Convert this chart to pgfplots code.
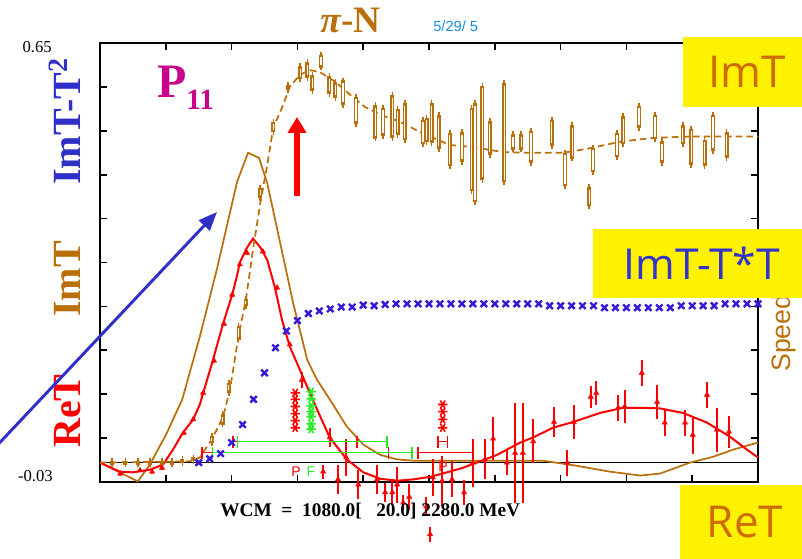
\documentclass[border=0pt]{standalone}
\usepackage{pgfplots}
\pgfplotsset{compat=1.18}
\usepackage{pgfplotstable}
\usepackage{fontspec}
\setmainfont{Liberation Serif}
\setsansfont{Liberation Sans}
\newfontfamily\boxfont{Open Sans}
\usetikzlibrary{arrows.meta}
\definecolor{imtbrown}{RGB}{185,112,10}
\definecolor{xblue}{RGB}{55,25,215}
\definecolor{lblue}{RGB}{48,48,200}
\definecolor{lgreen}{RGB}{40,235,40}
\definecolor{pmag}{RGB}{200,0,140}
\definecolor{dateblue}{RGB}{25,140,230}
\definecolor{boxorange}{RGB}{205,108,0}
\definecolor{boxblue}{RGB}{50,50,205}

\pgfplotstableread{
x y
1080 0
1149 -0.029
1171 -0.003
1202 0.046
1230 0.098
1262 0.195
1293 0.299
1330 0.435
1350 0.480
1370 0.472
1385 0.433
1414 0.319
1432 0.248
1458 0.159
1476 0.128
1499 0.098
1530 0.056
1560 0.028
1591 0.012
1622 0.005
1651 0.003
1888 0.003
1950 -0.005
2010 -0.014
2065 -0.020
2101 -0.017
2156 0.000
2198 0.009
2234 0.020
2271 0.029
2280 0.031
}\brownfit

\pgfplotstableread{
x y
1080 0
1116 -0.014
1140 -0.015
1171 -0.011
1195 -0.003
1213 0.020
1231 0.046
1250 0.067
1262 0.090
1286 0.159
1304 0.214
1321 0.260
1330 0.290
1335 0.310
1348 0.333
1359 0.347
1372 0.334
1385 0.314
1399 0.271
1412 0.221
1426 0.180
1450 0.133
1476 0.082
1499 0.039
1530 0.005
1560 -0.015
1591 -0.025
1622 -0.028
1651 -0.026
1682 -0.022
1713 -0.015
1742 -0.008
1773 0.002
1804 0.012
1846 0.031
1870 0.039
1906 0.054
1943 0.063
1992 0.077
2034 0.085
2065 0.085
2101 0.084
2143 0.077
2187 0.062
2229 0.040
2260 0.020
2280 0.008
}\redfit

\pgfplotstableread{
x y
1080 0
1244 0.002
1262 0.008
1284 0.036
1304 0.070
1317 0.113
1333 0.198
1346 0.252
1359 0.330
1372 0.400
1385 0.461
1396 0.519
1414 0.554
1426 0.582
1445 0.601
1463 0.608
1481 0.605
1509 0.590
1536 0.570
1563 0.551
1591 0.539
1627 0.528
1664 0.512
1718 0.492
1758 0.489
1815 0.481
1864 0.480
1924 0.480
1968 0.486
2028 0.497
2088 0.503
2151 0.505
2280 0.505
}\imtfit

\pgfplotstableread{
x y e ei
1102 0 0.003 0
1126 0 0.003 0
1149 0 0.003 0
1171 0 0.003 0
1193 0 0.003 0
1211 0 0.003 0
1230 0.002 0.003 0
1250 0.005 0.003 0
1284 0.036 0.006 0.002
1304 0.067 0.008 0.004
1315 0.116 0.008 0.004
1333 0.201 0.011 0.007
1346 0.248 0.006 0.002
1372 0.418 0.008 0.004
1396 0.520 0.008 0.004
1423 0.581 0.004 0
1445 0.604 0.010 0.006
1458 0.608 0.012 0.008
1467 0.588 0.012 0.008
1483 0.622 0.010 0.006
1498 0.585 0.014 0.010
1509 0.577 0.012 0.008
1523 0.573 0.019 0.015
1547 0.546 0.021 0.017
1582 0.528 0.026 0.022
1596 0.528 0.022 0.018
1613 0.536 0.033 0.029
1623 0.528 0.020 0.016
1636 0.528 0.029 0.025
1669 0.512 0.019 0.015
1676 0.515 0.019 0.015
1685 0.526 0.031 0.027
1698 0.512 0.026 0.022
1718 0.485 0.026 0.022
1740 0.489 0.023 0.019
1758 0.485 0.065 0.061
1764 0.480 0.077 0.073
1777 0.511 0.073 0.069
1791 0.503 0.026 0.022
1817 0.511 0.077 0.073
1833 0.497 0.012 0.008
1848 0.497 0.012 0.008
1866 0.489 0.025 0.021
1904 0.511 0.020 0.016
1928 0.454 0.026 0.022
1941 0.497 0.026 0.022
1972 0.412 0.015 0.011
1979 0.469 0.019 0.015
2023 0.492 0.019 0.015
2034 0.515 0.022 0.018
2063 0.536 0.017 0.013
2092 0.520 0.019 0.015
2105 0.481 0.017 0.013
2143 0.508 0.015 0.011
2158 0.489 0.028 0.024
2183 0.480 0.020 0.016
2198 0.511 0.028 0.024
2223 0.492 0.020 0.016
}\imtdata

\pgfplotstableread{
x y
1260 0.000
1280 0.006
1300 0.014
1320 0.031
1340 0.059
1360 0.098
1380 0.139
1400 0.178
1420 0.204
1440 0.220
1460 0.231
1480 0.235
1500 0.238
1520 0.241
1540 0.241
1560 0.244
1580 0.243
1600 0.245
1620 0.246
1640 0.246
1660 0.246
1680 0.246
1700 0.246
1720 0.246
1740 0.246
1760 0.246
1780 0.246
1800 0.246
1820 0.246
1840 0.246
1860 0.246
1880 0.246
1900 0.243
1920 0.243
1940 0.243
1960 0.243
1980 0.243
2000 0.240
2020 0.240
2040 0.240
2060 0.240
2080 0.240
2100 0.240
2120 0.240
2140 0.243
2160 0.243
2180 0.243
2200 0.243
2220 0.246
2240 0.246
2260 0.246
2280 0.246
}\bluedata

\pgfplotstableread{
x y e
1117 -0.017 0.003
1153 -0.012 0.003
1175 -0.014 0.003
1193 -0.008 0.003
1233 0.046 0.003
1250 0.067 0.003
1268 0.108 0.003
1288 0.158 0.003
1306 0.215 0.003
1321 0.260 0.003
1335 0.307 0.003
1348 0.325 0.003
1377 0.327 0.003
1403 0.271 0.003
1426 0.183 0.003
1448 0.128 0.012
1499 0.039 0.015
1487 -0.014 0.011
1514 -0.026 0.023
1529 0.008 0.028
1551 -0.034 0.023
1585 -0.026 0.023
1600 -0.046 0.015
1613 -0.046 0.019
1622 -0.034 0.028
1633 -0.062 0.012
1644 -0.053 0.020
1675 -0.068 0.015
1682 -0.111 0.012
1687 -0.023 0.028
1704 -0.028 0.039
1722 -0.026 0.028
1744 -0.046 0.019
1760 0.000 0.037
1782 0.005 0.031
1797 0.037 0.033
1822 0.000 0.019
1837 0.015 0.077
1851 0.015 0.077
1870 0.033 0.034
1908 0.063 0.023
1932 0.000 0.020
1944 0.063 0.026
1975 0.102 0.017
1985 0.108 0.019
2025 0.085 0.020
2037 0.087 0.025
2068 0.139 0.020
2096 0.094 0.026
2110 0.062 0.020
2147 0.062 0.020
2161 0.043 0.029
2187 0.105 0.020
2205 0.051 0.034
2227 0.048 0.025
}\redata

\begin{document}
\begin{tikzpicture}
\clip (0,0) rectangle (601.5pt,419.25pt);
\begin{axis}[
  at={(75pt,57.75pt)}, anchor=south west,
  scale only axis, width=493.5pt, height=329.25pt,
  xmin=1080, xmax=2280, ymin=-0.03, ymax=0.65,
  clip=false,
  axis line style={line width=1.5pt},
  xtick={1200,1320,...,2160},
  ytick={0.038,0.106,0.174,0.242,0.310,0.378,0.446,0.514,0.582},
  xticklabels={}, yticklabels={},
  tick align=inside, major tick length=5.5pt,
  tick style={line width=1.3pt, black},
  nomark/.style={only marks, mark=*, mark size=0pt, mark options={draw=none, fill=none}},
]
% zero line
\addplot[black, line width=1pt, mark=none] coordinates {(1080,0) (2280,0)};
% brown solid curve
\addplot[imtbrown, line width=1.3pt, mark=none] table[x=x,y=y] {\brownfit};
% red fit
\addplot[red, line width=1.5pt, mark=none] table[x=x,y=y] {\redfit};
% ImT dashed fit
\addplot[imtbrown, line width=1.3pt, dash pattern=on 5pt off 3pt, mark=none] table[x=x,y=y] {\imtfit};
% ImT data: outlined bars
\addplot[nomark, error bars/.cd, y dir=both, y explicit,
  error bar style={imtbrown, line width=2.8pt},
  error mark=-, error mark options={imtbrown, line width=1pt, mark size=2.2pt}]
  table[x=x,y=y,y error=e] {\imtdata};
\addplot[nomark, error bars/.cd, y dir=both, y explicit,
  error bar style={white, line width=0.9pt}, error mark=none]
  table[x=x,y=y,y error=ei] {\imtdata};
% blue crosses
\addplot[only marks, mark=x, mark size=3.4pt, xblue, mark options={line width=1.8pt}] table[x=x,y=y] {\bluedata};
% red data
\addplot[only marks, mark=triangle*, mark size=2.2pt, red,
  error bars/.cd, y dir=both, y explicit,
  error bar style={red, line width=1.3pt}, error mark=none]
  table[x=x,y=y,y error=e] {\redata};
% asterisk stacks
\addplot[only marks, mark=asterisk, mark size=3.5pt, red, mark options={rotate=90, line width=1.2pt}]
  coordinates {(1436,0.108) (1436,0.098) (1436,0.087) (1436,0.076) (1436,0.065) (1436,0.054)};
\addplot[only marks, mark=asterisk, mark size=3.5pt, lgreen, mark options={rotate=90, line width=1.2pt}]
  coordinates {(1465,0.110) (1465,0.099) (1465,0.088) (1465,0.079) (1465,0.071) (1465,0.060) (1465,0.052)};
\addplot[only marks, mark=asterisk, mark size=3.5pt, red, mark options={rotate=90, line width=1.2pt}]
  coordinates {(1705,0.090) (1705,0.079) (1705,0.067) (1705,0.054)};
% horizontal bars
\addplot[nomark, error bars/.cd, x dir=both, x explicit,
  error bar style={red, line width=1.2pt}, error mark=|, error mark options={red, line width=1.2pt, mark size=4.5pt}]
  coordinates {(1436,0.0325) +- (113,0) (1436,0.0155) +- (170,0) (1710,0.0155) +- (50,0) (1705,0.0325) +- (9,0)};
\addplot[nomark, error bars/.cd, x dir=both, x explicit,
  error bar style={lgreen, line width=1.2pt}, error mark=|, error mark options={lgreen, line width=1.2pt, mark size=4.5pt}]
  coordinates {(1467,0.0325) +- (136,0) (1467,0.0155) +- (182,0)};
\end{axis}

\begin{scope}[shift={(0pt,419.25pt)}, x=0.75pt, y=-0.75pt]
 \node[anchor=base west, text=imtbrown, font=\fontsize{28}{28}\selectfont\bfseries, inner sep=0pt] at (320,33) {\textit{π}-N};
 \node[anchor=base west, text=dateblue, font=\sffamily\fontsize{11}{11}\selectfont, inner sep=0pt] at (433,32) {5/29/ 5};
 \node[anchor=base east, font=\fontsize{12.5}{12.5}\selectfont, inner sep=0pt] at (52,53) {0.65};
 \node[anchor=base east, font=\fontsize{12.5}{12.5}\selectfont, inner sep=0pt] at (53,482) {-0.03};
 \node[rotate=90, anchor=base west, text=lblue, font=\fontsize{30}{30}\selectfont\bfseries, inner sep=0pt] at (80,185) {ImT-T\textsuperscript{2}};
 \node[rotate=90, anchor=base west, text=imtbrown, font=\fontsize{30}{30}\selectfont\bfseries, inner sep=0pt] at (80,317) {ImT};
 \node[rotate=90, anchor=base west, text=red, font=\fontsize{30}{30}\selectfont\bfseries, inner sep=0pt] at (80,448) {ReT};
 \node[anchor=base west, text=pmag, font=\fontsize{36}{36}\selectfont\bfseries, inner sep=0pt] at (157,98) {P};
 \node[anchor=base west, text=pmag, font=\fontsize{22}{22}\selectfont\bfseries, inner sep=0pt] at (186,110) {11};
 \node[anchor=base west, font=\fontsize{14.5}{14.5}\selectfont\bfseries, inner sep=0pt] at (220,517) {WCM\ \ =\ \ 1080.0[\ \ \ 20.0]\ 2280.0 MeV};
 \node[text=red, font=\sffamily\fontsize{10.5}{10.5}\selectfont, inner sep=0pt] at (296,472) {P};
 \node[text=lgreen, font=\sffamily\fontsize{10.5}{10.5}\selectfont, inner sep=0pt] at (311,472) {F};
 \node[text=red, font=\sffamily\fontsize{10.5}{10.5}\selectfont, inner sep=0pt] at (443,467) {P};
 \draw[red, line width=4.5pt, -{Triangle[length=12pt 0, width=13.5pt 0]}] (297,196) -- (297,117);
 \draw[lblue, line width=2.2pt, -{Triangle[length=14pt 0, width=11pt 0]}] (-10,453) -- (217,212);
 \node[rotate=90, anchor=base west, text=imtbrown, font=\sffamily\fontsize{20}{20}\selectfont, inner sep=0pt] at (790,372) {Speed};
 \fill[yellow] (683,37) rectangle (802,107);
 \node[text=boxorange, font=\boxfont\fontsize{33}{33}\selectfont, inner sep=0pt] at (747,72) {ImT};
 \fill[yellow] (593,229) rectangle (802,298);
 \node[text=boxblue, font=\boxfont\fontsize{32}{32}\selectfont, inner sep=0pt] at (702,263) {ImT-T*T};
 \fill[yellow] (680,485) rectangle (802,559);
 \node[text=boxorange, font=\boxfont\fontsize{33}{33}\selectfont, inner sep=0pt] at (745,522) {ReT};
\end{scope}
\end{tikzpicture}
\end{document}
